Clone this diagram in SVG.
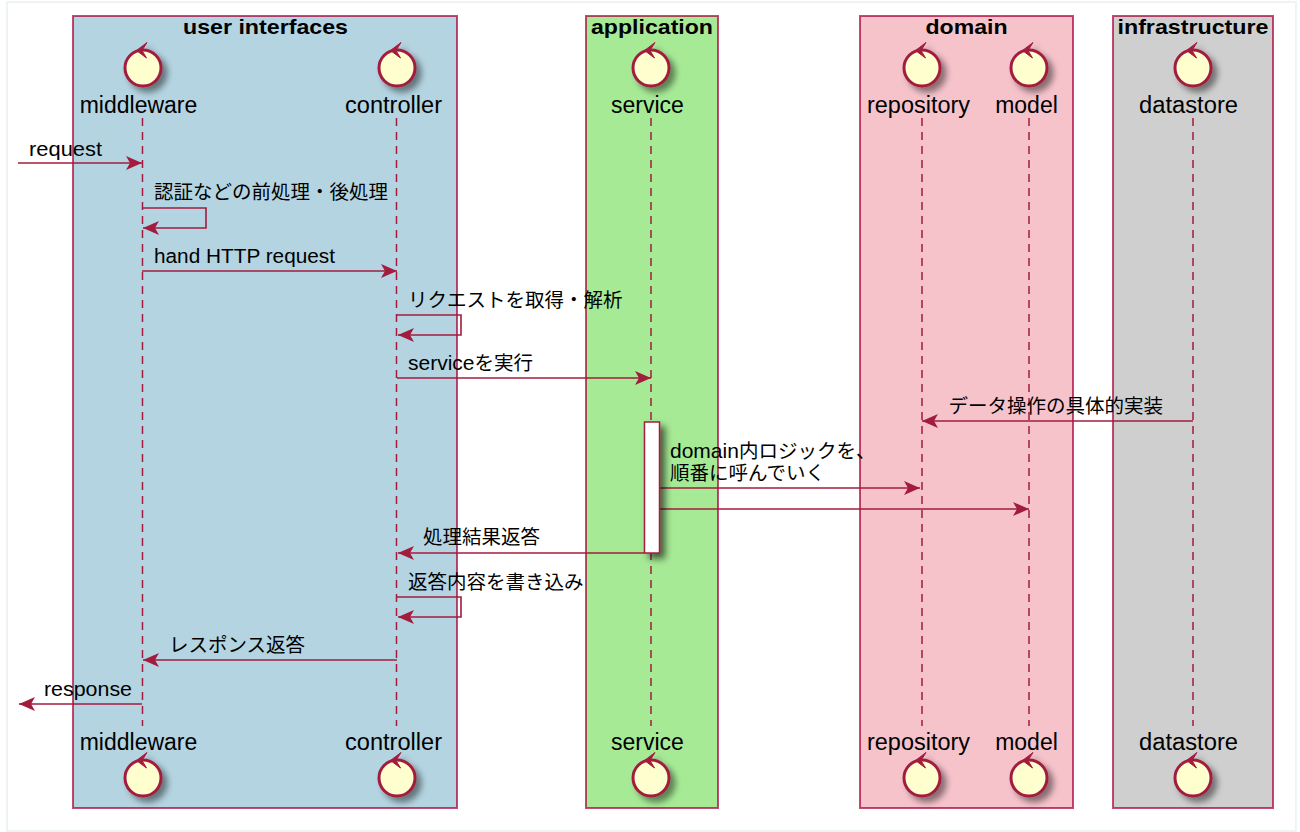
<svg xmlns="http://www.w3.org/2000/svg" width="1300" height="832" viewBox="0 0 1300 832">
<defs>
<filter id="sh" x="-60%" y="-20%" width="260%" height="140%"><feDropShadow dx="5" dy="5" stdDeviation="3.500" flood-color="#000" flood-opacity="0.6"/></filter>
<filter id="cs" x="-40%" y="-40%" width="190%" height="190%"><feDropShadow dx="5" dy="5" stdDeviation="3" flood-color="#000" flood-opacity="0.45"/></filter>
<marker id="ah" markerUnits="userSpaceOnUse" markerWidth="20" markerHeight="16" refX="17" refY="8" orient="auto-start-reverse"><path d="M1 1 L17 8 L1 15 L5 8 Z" fill="#A21C3E"/></marker>
<g id="ctl"><g filter="url(#cs)"><circle cx="0" cy="0" r="18" fill="#FEFECE" stroke="#A21C3E" stroke-width="3"/><path d="M4 -25.5 L-6.500 -17.500 L3.500 -10 L-1 -17.500 Z" fill="#A21C3E" stroke="#A21C3E" stroke-width="1"/></g></g>
</defs>
<style>
text{font-family:"Liberation Sans","Noto Sans CJK JP",sans-serif;fill:#000}
.box{stroke:#A80036;stroke-opacity:.7;stroke-width:2}
.t{font-size:21px;font-weight:bold;text-anchor:middle}
.p{font-size:23px;text-anchor:middle}
.m{font-size:19.500px}
.l{font-size:21px}
.life{stroke:#A21C3E;stroke-width:1.500;stroke-dasharray:8 6;fill:none}
.msg{stroke:#A21C3E;stroke-width:1.600;fill:none;marker-end:url(#ah)}
</style>
<rect x="0" y="0" width="1300" height="832" fill="#fff"/>
<rect x="7" y="2" width="1289" height="829" fill="#fff" stroke="#EEF3F6" stroke-width="2"/>
<g id="boxes">
<g id="box-ui"><rect class="box" x="73" y="16" width="384" height="792" fill="#B4D4E1"/><text class="t" x="265.500" y="34" textLength="165" lengthAdjust="spacingAndGlyphs">user interfaces</text></g>
<g id="box-app"><rect class="box" x="586" y="16" width="132" height="792" fill="#A6EA96"/><text class="t" x="652" y="34" textLength="122" lengthAdjust="spacingAndGlyphs">application</text></g>
<g id="box-domain"><rect class="box" x="860" y="16" width="213" height="792" fill="#F6C3CB"/><text class="t" x="966.500" y="34" textLength="82" lengthAdjust="spacingAndGlyphs">domain</text></g>
<g id="box-infra"><rect class="box" x="1113" y="16" width="160" height="792" fill="#CFCFCF"/><text class="t" x="1193" y="34" textLength="151" lengthAdjust="spacingAndGlyphs">infrastructure</text></g>
</g>
<g id="connectors">
<path class="life" d="M142.500 118V726"/><path class="life" d="M396.500 118V726"/><path class="life" d="M651 118V726"/><path class="life" d="M922 118V726"/><path class="life" d="M1029 118V726"/><path class="life" d="M1193 118V726"/>
<path class="msg" d="M18 163H142"/>
<path class="msg" d="M142 208H206V228H143"/>
<path class="msg" d="M142 271H397"/>
<path class="msg" d="M397 315H461V335H398"/>
<path class="msg" d="M397 378H651"/>
<path class="msg" d="M1193 421H922"/>
<path class="msg" d="M660 488H920"/>
<path class="msg" d="M660 509H1029"/>
<path class="msg" d="M644 553H398"/>
<path class="msg" d="M397 597H461V617H398"/>
<path class="msg" d="M397 660H143"/>
<path class="msg" d="M142 704H19"/>
</g>
<g id="activation"><rect x="644.500" y="422" width="15" height="131" fill="#fff" stroke="#A21C3E" stroke-width="1.500" filter="url(#sh)"/></g>
<g id="labels">
<text class="m" x="29" y="156" textLength="73" lengthAdjust="spacingAndGlyphs">request</text>
<text class="m" x="154" y="199">認証などの前処理・後処理</text>
<text class="m" x="154" y="263" textLength="181" lengthAdjust="spacingAndGlyphs">hand HTTP request</text>
<text class="m" x="408" y="307">リクエストを取得・解析</text>
<text class="m" x="408" y="370"><tspan class="l">service</tspan>を実行</text>
<text class="m" x="948.500" y="413">データ操作の具体的実装</text>
<text class="m" x="670" y="458"><tspan class="l">domain</tspan>内ロジックを、</text>
<text class="m" x="670" y="480">順番に呼んでいく</text>
<text class="m" x="423" y="544">処理結果返答</text>
<text class="m" x="408" y="589">返答内容を書き込み</text>
<text class="m" x="169" y="652">レスポンス返答</text>
<text class="m" x="44" y="696" textLength="88" lengthAdjust="spacingAndGlyphs">response</text>
</g>
<g id="p-middleware"><use href="#ctl" x="143" y="68"/><text class="p" x="138.500" y="112.500">middleware</text></g>
<g id="p-controller"><use href="#ctl" x="397" y="68"/><text class="p" x="393.500" y="112.500" textLength="97" lengthAdjust="spacingAndGlyphs">controller</text></g>
<g id="p-service"><use href="#ctl" x="651" y="68"/><text class="p" x="647.500" y="112.500">service</text></g>
<g id="p-repository"><use href="#ctl" x="922" y="68"/><text class="p" x="918.500" y="112.500" textLength="103" lengthAdjust="spacingAndGlyphs">repository</text></g>
<g id="p-model"><use href="#ctl" x="1029" y="68"/><text class="p" x="1026.500" y="112.500">model</text></g>
<g id="p-datastore"><use href="#ctl" x="1193" y="68"/><text class="p" x="1188.500" y="112.500" textLength="99" lengthAdjust="spacingAndGlyphs">datastore</text></g>
<g id="p-middleware-b"><use href="#ctl" x="143" y="778"/><text class="p" x="138.500" y="749.500">middleware</text></g>
<g id="p-controller-b"><use href="#ctl" x="397" y="778"/><text class="p" x="393.500" y="749.500" textLength="97" lengthAdjust="spacingAndGlyphs">controller</text></g>
<g id="p-service-b"><use href="#ctl" x="651" y="778"/><text class="p" x="647.500" y="749.500">service</text></g>
<g id="p-repository-b"><use href="#ctl" x="922" y="778"/><text class="p" x="918.500" y="749.500" textLength="103" lengthAdjust="spacingAndGlyphs">repository</text></g>
<g id="p-model-b"><use href="#ctl" x="1029" y="778"/><text class="p" x="1026.500" y="749.500">model</text></g>
<g id="p-datastore-b"><use href="#ctl" x="1193" y="778"/><text class="p" x="1188.500" y="749.500" textLength="99" lengthAdjust="spacingAndGlyphs">datastore</text></g>
</svg>
